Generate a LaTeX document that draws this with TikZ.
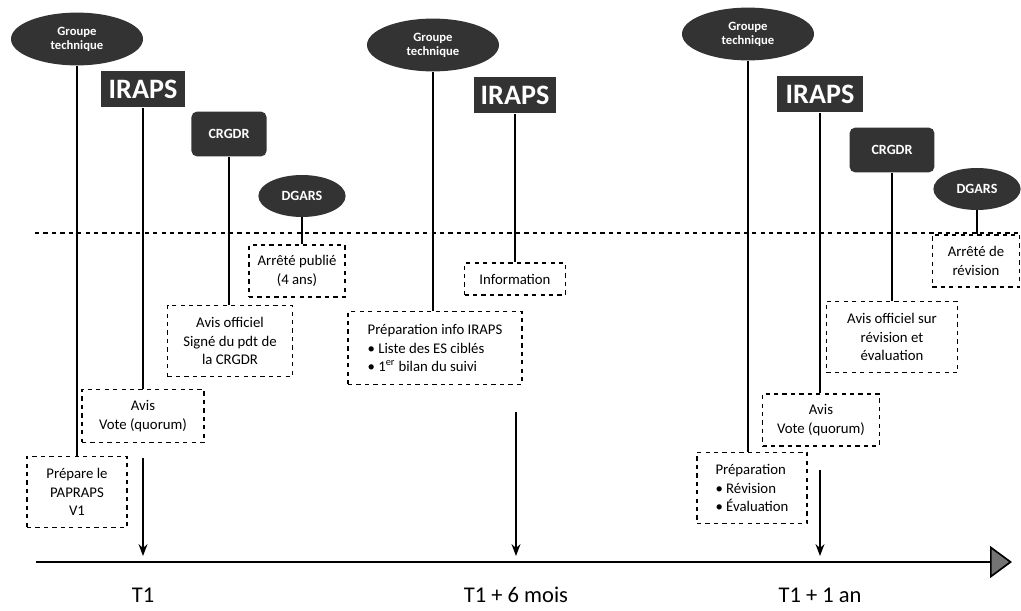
\documentclass[tikz,border=0pt]{standalone}
\usepackage{fontspec}
\setmainfont{Carlito}
\usetikzlibrary{arrows.meta,shapes.geometric}
\tikzset{
  sombre/.style={fill=black!80,text=white,inner sep=1pt,font=\bfseries\fontsize{10}{11}\selectfont},
  groupe/.style={sombre,ellipse,align=center,minimum width=3.3cm,minimum height=1.32cm,font=\bfseries\fontsize{9}{10}\selectfont},
  iraps/.style={sombre,minimum width=2.12cm,minimum height=0.92cm,font=\bfseries\fontsize{20}{22}\selectfont},
  crgdr/.style={sombre,rounded corners=4pt,minimum height=1.12cm},
  dgars/.style={sombre,ellipse,minimum width=2.18cm,minimum height=1.05cm},
  etape/.style={draw,dashed,line width=0.8pt,align=center,inner sep=2pt,font=\fontsize{10.5}{13}\selectfont},
  lien/.style={line width=1.1pt},
  fleche/.style={line width=1.2pt,->,shorten >=0.15cm}
}

\begin{document}
\begin{tikzpicture}[x=0.025cm,y=-0.025cm,>=Stealth]
\useasboundingbox (0,0) rectangle (1021,611);
% --- axe du temps et seuil
\coordinate (a0) at (36,562); \coordinate (a1) at (1012,562);
\draw[line width=1.2pt,-{Triangle[length=0.55cm,width=0.8cm,fill=black!55]}] (a0) -- (a1);
\draw[dashed,line width=0.8pt] (35,233) -- (1021,233);
\foreach \x/\t in {143/T1,516/T1 + 6 mois,820/T1 + 1 an} {\node[font=\fontsize{16}{18}\selectfont] (l\x) at (\x,595) {\t}; \coordinate (t\x) at (\x,562);}

% --- T1
\node[groupe] (g1) at (77,39) {Groupe\\technique};
\node[iraps] (i1) at (143,89) {IRAPS};
\node[crgdr,minimum width=1.88cm] (c1) at (229,134) {CRGDR};
\node[dgars] (d1) at (302,196) {DGARS};
\node[etape,minimum width=2.5cm,minimum height=1.78cm] (e1) at (77,492) {Prépare le\\PAPRAPS\\V1};
\node[etape,minimum width=3.05cm,minimum height=1.32cm] (e2) at (143,416) {Avis\\Vote (quorum)};
\node[etape,minimum width=3.12cm,minimum height=1.78cm] (e3) at (230,341) {Avis officiel\\Signé du pdt de\\la CRGDR};
\node[etape,minimum width=2.4cm,minimum height=1.3cm] (e4) at (297,271) {Arrêté publié\\(4 ans)};
\draw[lien] (g1) -- (e1); \draw[lien] (i1) -- (e2);
\draw[lien] (c1.south) -- (c1.south |- e3.north); \draw[lien] (d1.south) -- (d1.south |- e4.north);
\coordinate (f1) at (143,458); \draw[fleche] (f1) -- (t143);

% --- T1 + 6 mois
\node[groupe] (g2) at (433,45) {Groupe\\technique};
\node[iraps,minimum width=2.07cm] (i2) at (515,95) {IRAPS};
\node[etape,align=left,minimum width=4.35cm,minimum height=1.82cm] (e5) at (435,348) {Préparation info IRAPS\\• Liste des ES ciblés\\• 1\textsuperscript{er} bilan du suivi};
\node[etape,minimum width=2.52cm,minimum height=0.8cm] (e6) at (515,279) {Information};
\draw[lien] (g2.south) -- (g2.south |- e5.north); \draw[lien] (i2) -- (e6);
\coordinate (f2) at (516,412); \draw[fleche] (f2) -- (t516);

% --- T1 + 1 an
\node[groupe] (g3) at (748,34) {Groupe\\technique};
\node[iraps,minimum width=2.15cm] (i3) at (820,94) {IRAPS};
\node[crgdr,minimum width=2.12cm] (c3) at (892,150) {CRGDR};
\node[dgars] (d3) at (977,189) {DGARS};
\node[etape,align=left,minimum width=2.75cm,minimum height=1.78cm] (e7) at (752,488) {Préparation\\• Révision\\• Évaluation};
\node[etape,minimum width=2.92cm,minimum height=1.3cm] (e8) at (821,420) {Avis\\Vote (quorum)};
\node[etape,minimum width=3.28cm,minimum height=1.78cm] (e9) at (892,337) {Avis officiel sur\\révision et\\évaluation};
\node[etape,minimum width=2.18cm,minimum height=1.3cm] (e10) at (976,261) {Arrêté de\\révision};
\draw[lien] (g3.south) -- (g3.south |- e7.north); \draw[lien] (i3.south) -- (i3.south |- e8.north);
\draw[lien] (c3) -- (e9); \draw[lien] (d3.south) -- (d3.south |- e10.north);
\coordinate (f3) at (820,470); \draw[fleche] (f3) -- (t820);
\end{tikzpicture}
\end{document}
